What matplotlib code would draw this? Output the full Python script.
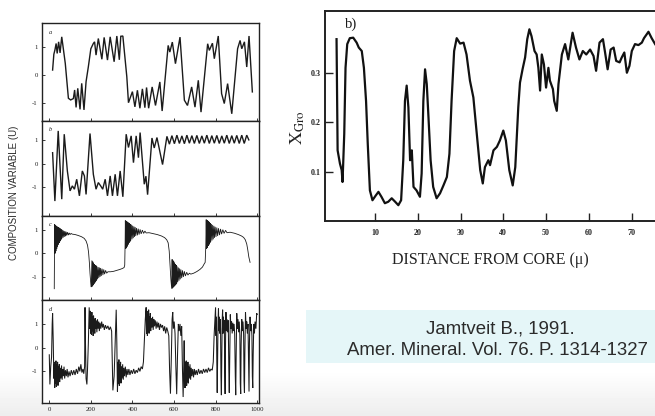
import matplotlib
matplotlib.use("Agg")
import matplotlib.pyplot as plt
import numpy as np
from matplotlib.patches import Rectangle

# ---------------- data ----------------
# Panel a: composition variable U vs. position
xa = [16, 22, 27, 33, 38, 45, 52, 60, 77, 92, 103, 116, 122, 129, 137, 148, 156, 167, 177, 188,
      200, 212, 218, 225, 236, 253, 264, 280, 293, 312, 325, 337, 344, 354, 373, 381,
      400, 412, 424, 436, 448, 460, 468, 478, 495, 511, 532, 543, 572, 580, 592, 607, 629,
      650, 665, 685, 701, 717, 730, 762, 770, 785, 794, 813, 829, 842, 858, 878,
      906, 918, 926, 939, 950, 961, 977]
ya = [0.18, 0.75, 0.90, 1.14, 0.78, 1.20, 0.80, 1.38, 0.42, -0.84, -0.90, -0.85, -0.54, -1.17, -0.48,
      -1.24, -0.30, -1.26, -0.24, 0.30,
      0.95, 1.14, 1.20, 0.72, 1.32, 0.57, 1.36, 0.54, 1.38, 0.48, 1.41, 0.55, 1.40, 1.41, -0.06, -1.00,
      -0.60, -1.15, -0.55, -1.20, -0.50, -1.18, -0.45, -1.20, -0.43, -1.10, -0.25, -1.30, 1.07, 0.83,
      1.19, 0.41, 1.37,
      -0.91, -1.10, -0.43, -1.16, -0.19, -1.34, 1.13, 0.89, 1.15, 0.59, 1.41, -0.67, -1.03, -0.31, -1.40,
      0.95, 1.25, 0.95, 1.20, 0.29, 1.41, -0.61]

# Panel b
xb = [16, 27, 43, 60, 72, 87, 100, 111, 121, 132, 145, 159, 169, 177, 196, 212, 225, 236, 248, 257,
      269, 280, 293, 304, 317, 328, 341, 354, 370, 381, 394, 405, 418, 429, 437, 457, 465, 473, 494,
      505, 518, 545, 566, 578, 590, 602, 614, 626, 638, 650, 662, 674, 686, 698, 710, 722, 734, 746,
      758, 770, 782, 794, 806, 818, 830, 842, 854, 866, 878, 890, 902, 914, 926, 938, 950, 960]
yb = [0.46, -1.58, 1.38, -1.50, 1.24, -0.31, -1.15, -0.94, -1.08, -0.66, -1.36, -0.31, -0.52, -1.30,
      1.27, -0.45, -1.08, -0.80, -0.95, -1.08, -0.66, -1.36, -0.52, -1.36, -0.45, -1.36, -0.31, -1.40,
      1.24, 0.68, 1.17, 0.04, 1.17, 0.25, 1.31, -0.87, -0.53, -1.31, 1.08, 0.66, 1.10, -0.04, 1.15,
      0.82, 1.18, 0.84, 1.20, 0.85, 1.17, 0.84, 1.20, 0.86, 1.18, 0.85, 1.19, 0.85, 1.17, 0.86, 1.20,
      0.85, 1.18, 0.86, 1.19, 0.85, 1.17, 0.86, 1.20, 0.85, 1.18, 0.86, 1.19, 0.85, 1.20, 0.85, 1.20,
      1.00]

# Panel c: relaxation cycles with damped bursts
xc = [24, 26, 28, 30, 32, 34, 36, 38, 40, 42, 44, 46, 48, 50, 52, 54, 56, 58, 60, 63, 66, 69, 72, 75,
      78, 81, 84, 88, 92, 96, 100, 105, 110, 125, 140, 155, 168, 177, 184, 189, 193, 196, 199, 202,
      205, 207, 209, 211, 213, 215, 217, 219, 221, 223, 225, 227, 229, 232, 235, 238, 241, 244, 247,
      250, 254, 258, 262, 266, 271, 276, 282, 295, 310, 325, 340, 352, 360, 363, 365, 366,
      368, 370, 372, 374, 376, 378, 380, 382, 384, 386, 388, 390, 392, 395, 398, 401, 404, 407, 410,
      413, 416, 420, 424, 428, 432, 437, 442, 448, 454, 460, 466, 480, 500, 520, 540, 555, 565, 572,
      577, 581, 585, 589,
      591, 593, 595, 597, 599, 601, 603, 605, 607, 609, 611, 613, 615, 618, 621, 624, 627, 630, 633,
      637, 641, 645, 650, 655, 661, 667, 674, 681, 695, 710, 725, 737, 745, 750, 753, 755,
      757, 759, 761, 763, 765, 767, 769, 771, 773, 775, 777, 780, 783, 786, 789, 792, 795, 798, 802,
      806, 810, 814, 819, 824, 829, 835, 841, 848, 855, 870, 890, 910, 925, 935, 943, 950, 955, 960,
      966]
yc = [-1.50, 1.24, 0.00, 1.20, 0.10, 1.17, 0.20, 1.14, 0.30, 1.12, 0.38, 1.10, 0.45, 1.07, 0.52, 1.05,
      0.58, 1.02, 0.62, 1.00, 0.66, 0.97, 0.70, 0.95, 0.73, 0.92, 0.76, 0.90, 0.78, 0.87, 0.80, 0.85,
      0.82, 0.80, 0.76, 0.71, 0.64, 0.53, 0.35, 0.05, -0.40, -0.85, -1.20, -1.43,
      -0.30, -1.40, -0.35, -1.35, -0.40, -1.30, -0.45, -1.25, -0.50, -1.20, -0.52, -1.15, -0.55, -1.10,
      -0.58, -1.05, -0.60, -1.00, -0.62, -0.96, -0.65, -0.92, -0.68, -0.88, -0.72, -0.84, -0.78, -0.78,
      -0.76, -0.72, -0.68, -0.64, -0.60, -0.50, 0.50, 1.40,
      0.20, 1.38, 0.25, 1.35, 0.30, 1.32, 0.38, 1.30, 0.45, 1.27, 0.50, 1.25, 0.55, 1.22, 0.60, 1.18,
      0.65, 1.15, 0.70, 1.12, 0.74, 1.08, 0.77, 1.05, 0.80, 1.02, 0.83, 0.99, 0.85, 0.95, 0.87, 0.88,
      0.84, 0.80, 0.74, 0.67, 0.58, 0.45, 0.10, -0.50, -1.10, -1.50,
      -0.25, -1.48, -0.30, -1.44, -0.35, -1.40, -0.40, -1.36, -0.45, -1.32, -0.50, -1.27, -0.55, -1.22,
      -0.60, -1.16, -0.64, -1.10, -0.68, -1.05, -0.72, -1.00, -0.76, -0.96, -0.80, -0.92, -0.84, -0.88,
      -0.84, -0.77, -0.68, -0.58, -0.45, -0.38, 0.30, 1.44,
      0.20, 1.42, 0.25, 1.38, 0.32, 1.35, 0.38, 1.32, 0.45, 1.28, 0.50, 1.25, 0.55, 1.21, 0.60, 1.17,
      0.66, 1.13, 0.70, 1.10, 0.74, 1.07, 0.78, 1.04, 0.82, 1.01, 0.85, 0.98, 0.88, 0.90, 0.86, 0.80,
      0.74, 0.68, 0.58, 0.40, 0.15, -0.15, -0.38]

# Panel d: irregular switching
xd = [0, 3, 7, 11, 14, 16, 19, 22, 24, 26, 28, 30, 32, 34, 36, 38, 40, 42, 44, 46, 48, 50, 53, 56,
      59, 62, 65, 68, 71, 74, 78, 82, 86, 90, 95, 100, 106, 112, 118, 124, 130, 136, 142, 147, 152,
      157, 162, 166, 170, 172, 174, 177, 181, 184, 188, 192, 195, 197, 199, 201, 203, 205, 207, 209,
      211, 213, 215, 217, 219, 221, 223, 226, 229, 232, 235, 238, 241, 244, 248, 252, 256, 260, 265,
      270, 276, 282, 288, 294, 300, 303, 306, 312, 318, 322, 325, 328, 331, 333, 335, 337, 339, 341,
      343, 345, 347, 350, 353, 356, 359, 362, 366, 370, 374, 378, 383, 388, 394, 400, 406, 412, 418,
      424, 430, 436, 442, 448, 453, 458, 462, 466, 468, 470, 472, 474, 476, 478, 480, 482, 484, 486,
      488, 491, 494, 497, 500, 503, 506, 510, 514, 518, 522, 526, 530, 535, 540, 545, 550, 555, 560,
      565, 570, 575, 579, 583, 587, 591, 594, 597, 601, 605, 609, 613, 617, 621, 625, 629, 633, 637,
      641, 644, 647, 649, 651, 653, 655, 657, 659, 661, 663, 665, 667, 669, 671, 674, 677, 680, 683,
      686, 690, 694, 698, 702, 707, 712, 718, 724, 730, 736, 742, 748, 754, 760, 766, 772, 778, 784,
      789, 793, 797, 800, 802, 804, 806, 808, 810, 812, 814, 816, 818, 820, 822, 824, 826, 828, 830,
      832, 834, 836, 838, 840, 842, 844, 846, 848, 850, 852, 855, 858, 861, 864, 866, 868, 871, 874,
      877, 880, 883, 886, 889, 892, 895, 897, 899, 902, 905, 908, 911, 914, 917, 919, 921, 923, 926,
      929, 932, 935, 937, 939, 941, 944, 947, 950, 953, 956, 959, 961, 963, 966, 969, 972, 975, 977,
      979, 981, 984, 987, 990, 994, 998, 1000]
yd = [-0.30, -1.55, -0.80, -0.40, 1.00, 1.45, 0.30, -1.30, -0.70, -1.70, -0.60, -1.50, -0.55, -1.65,
      -0.70, -1.40, -0.60, -1.60, -0.80, -1.30, -0.70, -1.45, -0.85, -1.30, -0.75, -1.35, -0.90, -1.20,
      -0.80, -1.30, -0.95, -1.20, -0.90, -1.25, -1.00, -1.20, -0.95, -1.15, -0.95, -1.15, -0.90, -1.10,
      -0.80, -1.00, -0.70, -1.05, -0.90, -1.10, -0.80, 1.70, 0.30, -1.30, -1.55, -0.90, 0.20, 1.70,
      0.80, 1.55, 0.60, 1.45, 0.55, 1.50, 0.70, 1.30, 0.50, 1.35, 0.75, 1.20, 0.60, 1.25, 0.80, 1.15,
      0.65, 1.20, 0.80, 1.10, 0.70, 1.05, 0.80, 1.10, 0.85, 1.00, 0.75, 0.95, 0.80, 0.92, 0.75, 0.88,
      0.70, -0.50, -1.80, -1.20, 0.50, 1.60, 0.20, -1.85, -0.60, -1.50, -0.50, -1.60, -0.70, -1.40,
      -0.60, -1.50, -0.80, -1.30, -0.70, -1.35, -0.85, -1.20, -0.80, -1.25, -0.90, -1.15, -0.90, -1.15,
      -0.95, -1.10, -0.90, -1.10, -0.95, -1.05, -0.85, -1.00, -0.80, -0.90, -0.60, 0.40, 1.20, 1.70,
      0.60, 1.55, 0.50, 1.40, 0.70, 1.60, 0.60, 1.30, 0.80, 1.45, 0.70, 1.25, 0.85, 1.30, 0.75, 1.20,
      0.90, 1.15, 0.80, 1.10, 0.85, 1.05, 0.75, 1.00, 0.85, 0.95, 0.70, 0.90, 0.60, 0.85, 0.70, 0.50,
      -1.00, -1.94, -0.50, 1.20, 1.50, 0.80, 1.10, 0.60, -0.80, -1.96, -0.30, 1.00, 0.70, 1.00, 0.50,
      0.90, -1.00, -2.08, -0.80, 0.30, -0.90, -1.70, -0.60, -1.50, -0.55, -1.60, -0.70, -1.45, -0.60,
      -1.50, -0.80, -1.30, -0.70, -1.35, -0.85, -1.20, -0.90, -1.25, -0.90, -1.15, -0.95, -1.15, -0.90,
      -1.10, -0.95, -1.10, -0.90, -1.05, -0.90, -1.05, -0.85, -1.00, -0.90, -0.95, -0.60, 0.50, 1.20,
      1.70, 0.50, 1.30, -0.60, -1.90, -0.40, 1.10, 1.65, 0.70, 1.30, 0.60, 1.20, 0.80, -1.20, -2.00,
      -0.30, 1.20, 1.60, 0.60, 1.30, 0.70, 1.15, -0.90, -1.95, 0.20, 1.50, 0.70, 1.20, 0.65, 1.15,
      -1.00, -1.90, -0.50, 1.40, 0.80, 1.10, 0.60, 1.05, 0.70, 1.00, 0.60, -1.20, -2.00, -0.40, 1.45,
      0.80, 1.20, 0.65, 1.10, 0.50, -1.50, -1.95, 0.10, 1.20, 0.70, 1.10, 0.55, -1.40, -1.90, -0.20,
      1.50, 0.80, 1.10, 0.60, 1.00, -0.80, -1.85, 0.20, 1.30, 0.70, 1.00, 0.50, -1.20, -1.70, -0.30,
      1.00, 0.60, 1.10, 0.80, 1.45, 1.40]

# Grossular fraction vs. distance from core (micrometres)
dist = [1.0, 1.25, 1.8, 2.2, 2.4, 2.8, 3.1, 3.5, 4.1, 4.9, 5.7, 6.2, 6.9, 7.4, 7.9, 8.3, 8.8, 9.4,
        10.2, 10.8, 11.5, 12.3, 13.1, 13.9, 14.7, 15.45, 16.1, 16.6, 17.0, 17.4, 17.8, 18.2, 18.6,
        19.0, 19.7, 20.5, 20.9, 21.3, 21.7, 22.1, 22.5, 23.0, 23.6, 24.4, 25.2, 26.0, 26.8, 27.4,
        27.9, 28.5, 29.1, 29.9, 30.7, 31.4, 32.2, 33.0, 33.8, 34.6, 35.2, 35.7, 36.5, 36.9, 37.7,
        38.5, 39.2, 40.0, 40.6, 41.4, 42.2, 42.8, 43.5, 43.9, 44.5, 45.1, 45.6, 46.1, 46.6, 47.3,
        47.8, 48.2, 48.6, 49.0, 49.5, 50.0, 50.55, 50.9, 51.6, 51.9, 52.5, 52.9, 53.7, 54.45, 55.2,
        56.2, 57.0, 57.8, 58.6, 59.4, 60.3, 61.1, 61.7, 62.5, 63.3, 63.8, 64.4, 65.1, 65.8, 66.4,
        67.2, 67.7, 68.3, 68.9, 69.5, 70.05, 70.8, 71.6, 72.4, 72.9, 73.95, 74.7, 75.5]
x_gro = [0.368, 0.143, 0.116, 0.103, 0.079, 0.176, 0.310, 0.358, 0.370, 0.371, 0.361, 0.351, 0.344,
         0.310, 0.243, 0.156, 0.062, 0.042, 0.052, 0.059, 0.049, 0.036, 0.039, 0.046, 0.039, 0.032,
         0.042, 0.123, 0.243, 0.274, 0.230, 0.123, 0.143, 0.069, 0.062, 0.049, 0.096, 0.243, 0.307,
         0.277, 0.210, 0.123, 0.069, 0.046, 0.056, 0.072, 0.089, 0.136, 0.243, 0.344, 0.370, 0.359,
         0.361, 0.337, 0.284, 0.250, 0.176, 0.103, 0.076, 0.109, 0.123, 0.113, 0.143, 0.150, 0.163,
         0.183, 0.163, 0.103, 0.072, 0.109, 0.230, 0.280, 0.307, 0.331, 0.368, 0.388, 0.374, 0.344,
         0.337, 0.310, 0.264, 0.337, 0.317, 0.270, 0.310, 0.284, 0.267, 0.243, 0.223, 0.277, 0.337,
         0.358, 0.327, 0.381, 0.351, 0.327, 0.344, 0.337, 0.347, 0.334, 0.304, 0.361, 0.368, 0.341,
         0.307, 0.347, 0.351, 0.324, 0.321, 0.331, 0.341, 0.300, 0.314, 0.344, 0.358, 0.356, 0.361,
         0.370, 0.383, 0.370, 0.358]

u_ticks = [-1, 0, 1]
u_ticklabels = ["-1", "0", "1"]
pos_ticks = [0, 200, 400, 600, 800, 1000]
pos_ticklabels = ["0", "200", "400", "600", "800", "1000"]
dist_ticks = [10, 20, 30, 40, 50, 60, 70]
gro_ticks = [0.1, 0.2, 0.3]
gro_ticklabels = ["0.1", "0.2", "0.3"]

# ---------------- figure ----------------
W, H = 655, 416
fig = plt.figure(figsize=(W / 100, H / 100), dpi=100)
fig.patch.set_facecolor("white")
plt.rcParams["mathtext.fontset"] = "stix"


def px_axes(left, top, right, bottom, **kw):
    return fig.add_axes([left / W, 1 - bottom / H, (right - left) / W, (bottom - top) / H], **kw)


# faint grey band at the foot of the slide
bg = px_axes(0, 0, W, H, zorder=-10)
grad = np.ones((H, 1))
grad[370:, 0] = np.linspace(1.0, 0.93, H - 370)
bg.imshow(grad, cmap="gray", vmin=0, vmax=1, aspect="auto", extent=(0, 1, 0, 1))
bg.set_axis_off()

ink = "#1b1b1b"
serif = ["Liberation Serif", "DejaVu Serif"]

# ---- left: four stacked panels ----
panels = [
    (xa, ya, 23, 120.7, (-1.65, 1.88), "a", 1.0),
    (xb, yb, 120.7, 216, (-2.21, 1.81), "b", 1.0),
    (xc, yc, 216, 300, (-1.98, 1.59), "c", 0.6),
    (xd, yd, 300, 402.7, (-2.32, 2.01), "d", 0.75),
]
for i, (xs, ys, top, bot, ylim, letter, lw) in enumerate(panels):
    ax = px_axes(42, top, 259, bot)
    ax.plot(xs, ys, color=ink, lw=lw, solid_joinstyle="miter")
    ax.set_xlim(-35, 1009)
    ax.set_ylim(*ylim)
    ax.set_yticks(u_ticks)
    ax.set_yticklabels(u_ticklabels, fontfamily=serif)
    ax.set_xticks(pos_ticks)
    if i == len(panels) - 1:
        ax.set_xticklabels(pos_ticklabels, fontfamily=serif)
    else:
        ax.set_xticklabels([])
    ax.tick_params(direction="in", length=2.5, width=0.6, labelsize=4.8, pad=3,
                   colors=ink, top=False, right=False)
    for s in ax.spines.values():
        s.set_linewidth(1.0)
        s.set_color("#222222")
    ax.text(0.03, 0.93, letter, transform=ax.transAxes, fontsize=4.5, fontstyle="italic",
            fontfamily=serif, color=ink, va="top", ha="left")

fig.text(14 / W, 1 - 193 / H, "COMPOSITION VARIABLE (U)", rotation=90, fontsize=7,
         fontfamily=["Liberation Sans", "DejaVu Sans"], color="#2a2a2a", ha="center", va="center")

# ---- right: grossular profile ----
axr = px_axes(325, 11, 700, 221)
axr.plot(dist, x_gro, color="#111111", lw=1.6, solid_joinstyle="round")
axr.set_xlim(-1.7, 86)
axr.set_ylim(0, 0.425)
axr.set_xticks(dist_ticks)
axr.set_xticklabels([str(t) for t in dist_ticks], fontfamily=serif, fontweight="bold")
axr.set_yticks(gro_ticks)
axr.set_yticklabels(gro_ticklabels, fontfamily=serif, fontweight="bold")
axr.tick_params(direction="in", length=6, width=1.0, labelsize=5.8, colors="#222222")
axr.tick_params(axis="x", pad=6)
axr.tick_params(axis="y", pad=3)
for s in axr.spines.values():
    s.set_linewidth(1.4)
    s.set_color("#222222")
axr.text(3.0, 0.398, "b)", fontsize=10.5, fontfamily=serif, color=ink, va="center")

fig.text(490 / W, 1 - 260 / H, "DISTANCE FROM CORE (\u03bc)", fontsize=11.5, fontfamily=serif,
         color="#222222", ha="center", va="center")
fig.text(298 / W, 1 - 128 / H, r"$\mathrm{X}_{\mathrm{Gro}}$", rotation=90, fontsize=13,
         color="#222222", ha="center", va="center")

# ---- reference note ----
fig.patches.append(Rectangle((306 / W, 1 - 363 / H), (W - 306) / W, 53 / H,
                             transform=fig.transFigure, facecolor="#e5f6f8", edgecolor="none",
                             zorder=0))
sans = ["Liberation Sans", "DejaVu Sans"]
fig.text(500 / W, 1 - 333.5 / H, "Jamtveit B., 1991.", fontsize=13.4, fontfamily=sans,
         color="#2b2b2b", ha="center", va="baseline")
fig.text(497 / W, 1 - 355 / H, "Amer. Mineral. Vol. 76. P. 1314-1327", fontsize=13.4,
         fontfamily=sans, color="#2b2b2b", ha="center", va="baseline")

fig.savefig("out.png", dpi=100)
